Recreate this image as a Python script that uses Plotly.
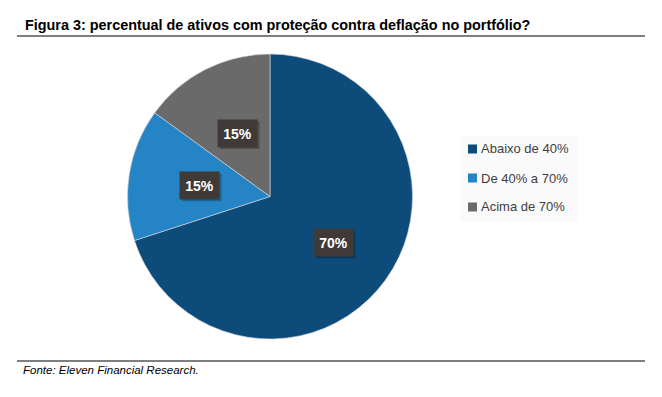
import math
import plotly.graph_objects as go

categories = ["Abaixo de 40%", "De 40% a 70%", "Acima de 70%"]
values = [70, 15, 15]
colors = ["#0D4B7B", "#2484C6", "#6A6A6A"]
title_text = "Figura 3: percentual de ativos com proteção contra deflação no portfólio?"
source_text = "Fonte: Eleven Financial Research."

WIN_W, WIN_H = 662, 397
OFF = 8  # default page body margin
W, H = WIN_W - OFF, WIN_H - OFF
# pie placement in window pixels
cx_px, cy_px, r_px = 270, 196.5, 142.5
label_rfrac = [0.55, 0.5, 0.5]

def px_x(x):
    return (x - OFF) / W

def px_y(y):
    return 1 - (y - OFF) / H

fig = go.Figure()
fig.add_trace(go.Pie(
    labels=categories, values=values, sort=False, direction="clockwise",
    rotation=0, marker=dict(colors=colors, line=dict(color="#d8d8d8", width=0.6)),
    textinfo="none", hoverinfo="label+percent", showlegend=False,
    domain=dict(x=[px_x(cx_px - r_px), px_x(cx_px + r_px)],
                y=[px_y(cy_px + r_px), px_y(cy_px - r_px)]),
))

annotations = []
shapes = []
total = sum(values)
cum = 0
bw, bh = 39, 27
for cat, v, rf in zip(categories, values, label_rfrac):
    mid = (cum + v / 2) / total * 2 * math.pi
    cum += v
    lx = cx_px + rf * r_px * math.sin(mid)
    ly = cy_px - rf * r_px * math.cos(mid)
    pct = f"{round(v / total * 100)}%"
    # soft shadow
    shapes.append(dict(type="rect", xref="paper", yref="paper",
                       x0=px_x(lx - bw / 2 + 2), x1=px_x(lx + bw / 2 + 2.5),
                       y0=px_y(ly + bh / 2 + 2.5), y1=px_y(ly - bh / 2 + 2),
                       fillcolor="rgba(0,0,0,0.25)", line=dict(width=0)))
    annotations.append(dict(x=px_x(lx), y=px_y(ly), xref="paper", yref="paper",
                            xanchor="center", yanchor="middle",
                            text=f"<b>{pct}</b>", showarrow=False,
                            bgcolor="#3F3A37", borderpad=5, width=bw - 10, height=bh - 10,
                            font=dict(family="Liberation Sans", size=14, color="white")))

# custom legend
shapes.append(dict(type="rect", xref="paper", yref="paper",
                   x0=px_x(460), x1=px_x(578), y0=px_y(222), y1=px_y(136),
                   fillcolor="#FAFAFA", line=dict(width=0), layer="below"))
leg_y0, leg_dy = 149, 29
for i, (cat, col) in enumerate(zip(categories, colors)):
    y = leg_y0 + i * leg_dy
    shapes.append(dict(type="rect", xref="paper", yref="paper",
                       x0=px_x(468), x1=px_x(477), y0=px_y(y + 4.5), y1=px_y(y - 4.5),
                       fillcolor=col, line=dict(width=0)))
    annotations.append(dict(x=px_x(479), y=px_y(y), xref="paper", yref="paper",
                            xanchor="left", yanchor="middle", text=cat, showarrow=False,
                            font=dict(family="Liberation Sans", size=13, color="#404040")))

# title and source
annotations.append(dict(x=px_x(23), y=px_y(25), xref="paper", yref="paper",
                        xanchor="left", yanchor="middle", text=f"<b>{title_text}</b>",
                        showarrow=False,
                        font=dict(family="Liberation Sans", size=14.4, color="black")))
annotations.append(dict(x=px_x(21), y=px_y(370), xref="paper", yref="paper",
                        xanchor="left", yanchor="middle", text=f"<i>{source_text}</i>",
                        showarrow=False,
                        font=dict(family="Liberation Sans", size=11.5, color="black")))
for yy in (36, 361):
    shapes.append(dict(type="line", xref="paper", yref="paper",
                       x0=px_x(17), x1=px_x(645), y0=px_y(yy), y1=px_y(yy),
                       line=dict(color="black", width=1.2)))

fig.update_layout(width=W, height=H, margin=dict(l=0, r=0, t=0, b=0),
                  paper_bgcolor="white", plot_bgcolor="white",
                  annotations=annotations, shapes=shapes, showlegend=False)
fig.write_html("out.html")
